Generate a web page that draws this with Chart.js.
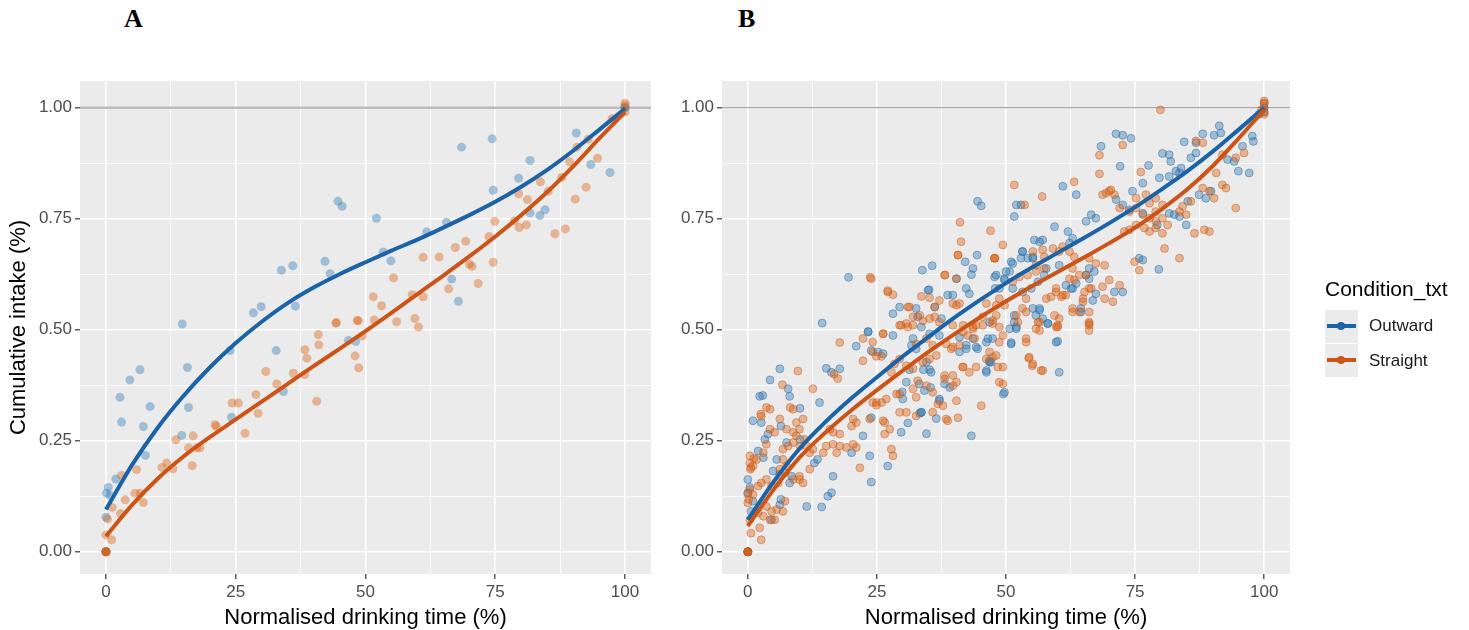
<!DOCTYPE html>
<html>
<head>
<meta charset="utf-8">
<script src="https://cdn.jsdelivr.net/npm/chart.js@4.4.0/dist/chart.umd.min.js"></script>
<style>
    body { margin: 0; background: #fff; width: 1469px; height: 630px; position: relative; overflow: hidden;
           font-family: "Liberation Sans", Arial, sans-serif; }
    .panel { position: absolute; top: 60px; height: 575px; }
    #wrap-a { left: 0; width: 660px; }
    #wrap-b { left: 660px; width: 809px; }
    .tag { position: absolute; top: 6px; font-family: "Liberation Serif", "Times New Roman", serif;
           font-weight: bold; font-size: 26px; line-height: 26px; color: #000; }
    .lg-title { position: absolute; left: 1325px; top: 276px; font-size: 21px; line-height: 26px; color: #000; }
    .key { position: absolute; left: 1325px; width: 33px; height: 33px; background: #ebebeb; }
    .key .ln { position: absolute; left: 2px; right: 2px; top: 14px; height: 4px; }
    .key .dot { position: absolute; left: 12px; top: 12px; width: 8px; height: 8px; border-radius: 50%; }
    .lg-label { position: absolute; left: 1369px; font-size: 17px; line-height: 20px; color: #1a1a1a; }
</style>
</head>
<body>
<div class="tag" style="left:124px">A</div>
<div class="tag" style="left:738px">B</div>

<div class="panel" id="wrap-a"><canvas id="chart-a"></canvas></div>
<div class="panel" id="wrap-b"><canvas id="chart-b"></canvas></div>

<div class="lg-title">Condition_txt</div>
<div class="key" style="top:310px"><span class="ln" id="key-out-ln"></span><span class="dot" id="key-out-dot"></span></div>
<div class="key" style="top:344px"><span class="ln" id="key-str-ln"></span><span class="dot" id="key-str-dot"></span></div>
<div class="lg-label" style="top:316px">Outward</div>
<div class="lg-label" style="top:351px">Straight</div>

<script>
// axis breaks (ggplot style: major + minor)
const xMajor = [0, 25, 50, 75, 100];
const xMinor = [12.5, 37.5, 62.5, 87.5];
const yMajor = [0, 0.25, 0.5, 0.75, 1];
const yMinor = [0.125, 0.375, 0.625, 0.875];

const OUT_LINE = '#1b63a6';
const STR_LINE = '#cb5416';
const OUT_PT = 'rgba(44,123,182,0.4)';
const STR_PT = 'rgba(217,95,14,0.4)';

// Panel A: individual points [time %, intake]
const outwardA = [
    [0,0],[0,0],[0,0.078],[0.1,0.132],[0.45,0.145],[0.8,0.127],[1.9,0.164],[2.7,0.348],[3.0,0.292],
    [4.6,0.387],[6.55,0.410],[7.2,0.282],[7.6,0.217],[8.5,0.327],[14.6,0.262],[14.7,0.513],[15.7,0.415],
    [15.9,0.325],[23.9,0.453],[24.2,0.303],[28.4,0.538],[29.9,0.552],[32.8,0.453],[33.8,0.634],[34.2,0.361],
    [36,0.644],[36.5,0.553],[42.2,0.654],[43.2,0.626],[44.7,0.789],[45.5,0.778],[46.7,0.476],[48.1,0.474],
    [52.1,0.751],[53.4,0.675],[54.9,0.655],[61.8,0.720],[65.6,0.742],[66.6,0.614],[67.9,0.564],[68.5,0.911],
    [74.4,0.930],[74.6,0.814],[79.5,0.841],[81.7,0.881],[81.7,0.763],[83.6,0.757],[84.6,0.770],[90.6,0.943],
    [93.4,0.872],[97.1,0.854],[100,1.0],[100,1.0]
];
const straightA = [
    [0,0],[0,0],[0,0],[0,0],[0,0.038],[1.1,0.027],[0.3,0.074],[1.2,0.100],[2.8,0.086],[3.7,0.117],[3.0,0.172],
    [5.6,0.132],[6.6,0.132],[7.2,0.111],[5.9,0.185],[10.8,0.190],[11.7,0.200],[12.9,0.187],[13.5,0.252],
    [16.6,0.194],[15.9,0.234],[16.8,0.261],[17.5,0.234],[18.1,0.234],[21,0.286],[21.3,0.282],[24.3,0.335],
    [25.5,0.335],[26.8,0.267],[28.9,0.354],[29.3,0.312],[30.8,0.406],[32.9,0.378],[36.1,0.402],[38.3,0.455],
    [38.7,0.436],[38.3,0.399],[40.9,0.489],[41,0.466],[40.6,0.339],[44.4,0.516],[48.4,0.521],[48,0.441],
    [48.7,0.414],[49.4,0.486],[44.3,0.515],[48.6,0.520],[51.7,0.522],[56,0.518],[59.5,0.525],[60.2,0.506],
    [51.5,0.574],[53.1,0.554],[55.4,0.617],[59,0.579],[61.1,0.574],[61.1,0.663],[64.2,0.664],[66,0.592],
    [67.3,0.685],[69.3,0.699],[70,0.648],[70.5,0.643],[71.7,0.604],[73.8,0.710],[74.6,0.652],[74.9,0.744],
    [78.7,0.745],[79.6,0.730],[81,0.736],[79.5,0.806],[81.2,0.793],[83.7,0.833],[85.2,0.812],[86.5,0.716],
    [88.5,0.727],[87.8,0.843],[89.3,0.878],[90.4,0.794],[90.7,0.911],[92.5,0.821],[92.9,0.929],[94.7,0.886],
    [97.5,0.975],[100,0.99],[100,1.01],[100,1.005]
];
// Panel A: smoothed fits, read every 5 %
const fitAX = [0, 5, 10, 15, 20, 25, 30, 35, 40, 45, 50, 55, 60, 65, 70, 75, 80, 85, 90, 95, 100];
const outFitAY = [0.095, 0.195, 0.28, 0.352, 0.415, 0.47, 0.518, 0.56, 0.595, 0.625, 0.652, 0.678, 0.703, 0.73, 0.758, 0.788, 0.822, 0.86, 0.903, 0.95, 0.998];
const strFitAY = [0.035, 0.105, 0.165, 0.215, 0.258, 0.298, 0.338, 0.378, 0.418, 0.457, 0.497, 0.538, 0.58, 0.622, 0.665, 0.71, 0.758, 0.81, 0.868, 0.93, 0.99];

// Panel B: individual points
const outwardB = [
    [0,0],[0,0],[0,0],[0,0.163],[0,0.133],[0.4,0.145],[0.6,0.091],[1,0.114],[1,0.295],[2.6,0.291],[2.3,0.35],
    [2.9,0.352],[4.3,0.387],[6.2,0.412],[7.8,0.367],[8.1,0.35],[10.1,0.323],[13.9,0.336],[15.2,0.413],
    [16.2,0.404],[17.8,0.412],[21,0.463],[23.3,0.495],[28.1,0.487],[14.4,0.515],[6.4,0.283],[2,0.227],
    [3,0.212],[10.1,0.253],[12.9,0.2],[13.5,0.208],[20.1,0.223],[16.5,0.17],[16.2,0.133],[15.5,0.125],
    [11.4,0.102],[14.3,0.101],[23.6,0.216],[23.9,0.157],[27.1,0.193],[23.9,0.302],[22.3,0.261],[29.7,0.269],
    [34.6,0.266],[33.3,0.312],[33.6,0.314],[37.1,0.344],[43.3,0.261],[29.9,0.36],[33.2,0.378],[35.4,0.37],
    [38.1,0.378],[39.1,0.37],[46.2,0.408],[46.8,0.427],[31.3,0.41],[34,0.41],[35.2,0.41],[32,0.48],
    [35.2,0.491],[37.1,0.487],[41,0.483],[42.3,0.465],[44.2,0.461],[46.2,0.472],[47.4,0.48],[4.6,0.072],
    [6.2,0.106],[6.4,0.118],[8.1,0.155],[8.5,0.17],[4.9,0.182],[6.2,0.174],[5.6,0.208],[7.5,0.246],
    [3.3,0.253],[3.9,0.265],
    [19.5,0.618],[44.5,0.789],[45.2,0.779],[42.1,0.653],[44.4,0.668],[43.6,0.638],[43.3,0.624],[47.8,0.619],
    [33.8,0.634],[35.7,0.644],[40.4,0.615],[35.1,0.590],[38.7,0.578],[39.7,0.578],[42.3,0.593],[42.9,0.581],
    [29.4,0.551],[28.1,0.536],[32.6,0.548],[32.9,0.529],[36.2,0.551],[37.5,0.525],[23.3,0.496],[46.8,0.517],
    [47.9,0.593],
    [71.3,0.941],[72.6,0.938],[74.2,0.931],[68.4,0.913],[72.1,0.868],[77.6,0.870],[80.3,0.897],[81.6,0.894],
    [81.9,0.879],[84.5,0.923],[86.8,0.921],[88.1,0.941],[90.3,0.938],[91.3,0.959],[91.6,0.943],[86.8,0.898],
    [85.8,0.887],[83.9,0.864],[82.9,0.857],[79.7,0.842],[81.6,0.845],[83.6,0.853],[92.9,0.883],[94.2,0.879],
    [95,0.857],[97.1,0.853],[95.8,0.913],[97.7,0.936],[97.9,0.924],[87.4,0.804],[88.7,0.796],[89.7,0.812],
    [85.2,0.789],[81.6,0.762],[82.6,0.759],[76.5,0.830],[74.5,0.812],[71.3,0.793],[72.6,0.781],[73.9,0.77],
    [76.5,0.762],[83.6,0.755],[84.9,0.736],[79.3,0.736],[79.6,0.636],[75.8,0.661],[76.5,0.657],[61,0.823],
    [63.6,0.804],[52,0.781],[52.9,0.781],[51.6,0.755],[59.4,0.732],[62,0.721],[62.9,0.706],[62.3,0.695],
    [65.5,0.744],[66.5,0.759],[67.4,0.751],[57.1,0.702],[55.5,0.702],[53.2,0.676],[54.2,0.661],[55.2,0.661],
    [52.9,0.661],[51,0.653],[50.7,0.631],[48.1,0.623],[49.7,0.615],[66.1,0.638],[67.1,0.631],[65.5,0.623],
    [61.6,0.600],[62.6,0.593],[63.6,0.604],[67.4,0.581],[71,0.585],[72.6,0.585],[64.5,0.548],[56.5,0.548],
    [55.8,0.532],[57.1,0.525],[50.7,0.502],[51.6,0.517],[53.2,0.585],[54.9,0.593],[56.2,0.608],[51.3,0.593],
    [48.7,0.593],
    [60,0.474],[60.3,0.404],[51,0.471],[47.1,0.427],[49.5,0.355],[58.1,0.514],[52,0.502],
    [34.9,0.589],[23.9,0.453],[25.2,0.45],[26.2,0.446],[33.6,0.506],[31.7,0.465],[32.6,0.457],[34.6,0.427],
    [35.5,0.404],[34.2,0.363],[37.1,0.34],[33.6,0.314],[30,0.344],[30.7,0.382],[41,0.45],[42.3,0.457],
    [43.6,0.48],[44.5,0.457],[46.5,0.48],[46.8,0.43],[46.2,0.404],[51,0.468],[52,0.506],[51.6,0.532],
    [55.2,0.548],[56.5,0.544],[58.1,0.514],[59.7,0.472],[49.7,0.612],[50,0.631],[51.3,0.649],[53.2,0.676],
    [55.2,0.664],[56.5,0.698],[57.8,0.638],[57.4,0.623],[60.3,0.645],[62.9,0.593],[66.1,0.615],[66.8,0.566],
    [64.5,0.540],[49.7,0.359],[36.5,0.30],[31,0.29],
    [100,1.0],[100,0.99],[100,1.01],[99,0.985]
];
const straightB = [
    [0,0],[0,0],[0,0],[0,0],[0,0.11],[0.4,0.072],[0.6,0.042],[2,0.088],[3,0.08],[4.3,0.072],[5.2,0.072],
    [3.6,0.102],[4.6,0.091],[5.6,0.095],[6.8,0.091],[7.2,0.114],[2.3,0.054],[2.6,0.027],[7.2,0.178],
    [8.8,0.163],[10,0.170],[2,0.148],[2.6,0.155],[3.6,0.163],[4.6,0.148],[5.9,0.155],[6.2,0.186],[7.5,0.193],
    [6.8,0.208],[0.4,0.2],[1.2,0.21],[0.6,0.19],[0.4,0.14],[1,0.129],[0.2,0.118],[0,0.13],[0.5,0.186],
    [1,0.193],[8.8,0.246],[10.1,0.238],[11,0.253],[6.8,0.231],[7.8,0.238],[4.3,0.276],[5.2,0.269],[9.4,0.291],
    [10.7,0.299],[6.7,0.376],[9.7,0.407],[8.2,0.325],[8.8,0.321],[12.6,0.367],[16.7,0.40],[17.4,0.39],
    [17.8,0.471],[22.3,0.43],[24.2,0.45],[24.9,0.44],[25.9,0.44],[26.2,0.491],[29.4,0.51],[30.7,0.514],
    [2.5,0.31],[2.6,0.305],[3.6,0.325],[4.3,0.321],[6.2,0.299],[7.5,0.276],[0.4,0.216],[1.7,0.208],[3,0.223],
    [3.6,0.242],[8.8,0.269],[9.4,0.261],[10,0.276],[11.4,0.238],[12.6,0.231],[12,0.223],[12,0.186],[10,0.163],
    [10.7,0.155],[14.6,0.223],[15.2,0.238],[16.5,0.242],[17.2,0.223],[17.8,0.238],[19.1,0.235],[20.4,0.242],
    [21,0.235],[15.9,0.276],[16.5,0.269],[17.8,0.265],[21.7,0.189],[27.8,0.231],[28.1,0.216],[26.5,0.291],
    [26.5,0.265],[27.5,0.276],[24.2,0.336],[24.9,0.330],[25.9,0.336],[20.4,0.299],[21,0.291],[20.1,0.283],
    [30.7,0.314],[32.6,0.306],[35.8,0.314],[36.8,0.333],[38.4,0.299],[40.7,0.302],[40.4,0.34],[45.2,0.329],
    [29.4,0.355],[32,0.367],[34.6,0.374],[35.8,0.359],[38.1,0.389],[39.7,0.397],[41.7,0.416],[40.4,0.382],
    [42.9,0.404],[44.2,0.416],[46.2,0.434],[46.8,0.45],[32,0.412],[33.9,0.427],[35.2,0.434],[36.5,0.442],
    [32.6,0.468],[34.6,0.48],[35.8,0.465],[38.4,0.468],[39.7,0.461],[41.7,0.495],[43.6,0.506],[45.5,0.51],
    [47.4,0.514],
    [23.7,0.618],[41.1,0.742],[41.3,0.698],[47,0.723],[40.7,0.668],[47.8,0.661],[38.2,0.623],[40.4,0.615],
    [27.1,0.588],[28.1,0.579],[33.6,0.575],[35.2,0.572],[40.4,0.555],[41,0.559],[31,0.551],[36.2,0.551],
    [32,0.529],[33.3,0.532],[35.2,0.525],[29.7,0.51],[31,0.506],[32,0.51],[26.2,0.491],[39.7,0.51],
    [41.7,0.51],[43.6,0.502],
    [79.9,0.995],[72.6,0.916],[68.1,0.893],[68.1,0.851],[76.1,0.855],[86.8,0.925],[88.1,0.921],[91.9,0.894],
    [94.5,0.887],[96.1,0.898],[94.5,0.774],[90.7,0.853],[91.9,0.826],[92.6,0.819],[88.1,0.819],[89.4,0.812],
    [90.3,0.796],[85.8,0.789],[84.2,0.778],[84.9,0.759],[83.6,0.766],[80.3,0.781],[79,0.796],[77.1,0.804],
    [75.2,0.796],[77.8,0.785],[79,0.766],[69.4,0.808],[70.3,0.815],[71,0.804],[72,0.774],[73.9,0.766],
    [75.2,0.774],[76.5,0.759],[77.8,0.751],[79,0.744],[80.3,0.751],[81.3,0.736],[86.5,0.717],[88.4,0.725],
    [89.4,0.721],[80.3,0.717],[79,0.729],[77.8,0.721],[76.8,0.729],[73.9,0.725],[75.2,0.736],[72.9,0.721],
    [80.7,0.683],[83.6,0.661],[74.9,0.653],[75.8,0.634],[51.6,0.826],[57,0.8],[63.2,0.833],[53.6,0.781],
    [68.7,0.804],[70,0.812],[49.4,0.691],[47.8,0.661],[55.2,0.676],[57.1,0.680],[59.1,0.683],[62.3,0.676],
    [63.2,0.664],[66.1,0.661],[67.4,0.649],[69.1,0.645],[62.9,0.638],[64.2,0.623],[62.3,0.615],[63.2,0.612],
    [59.7,0.585],[60.7,0.574],[61.6,0.578],[64.9,0.570],[65.2,0.585],[66.5,0.593],[68.7,0.597],[70,0.612],
    [72,0.600],[69.1,0.570],[70.7,0.563],[62.9,0.548],[64.2,0.540],[66.1,0.517],[59.4,0.532],[60,0.51],
    [53.9,0.540],[52.3,0.517],[48.1,0.532],[49.7,0.555],[48.7,0.570],[54.2,0.623],[55.8,0.631],[57.4,0.638],
    [66.1,0.514],[66.1,0.498],[57.1,0.408],[54.4,0.436],[55.1,0.419],[53.9,0.472],[49.4,0.487],[48.7,0.472],
    [48.1,0.442],[48.4,0.416],[49.4,0.378],[56.2,0.517],[56.5,0.498],[60,0.506],
    [40.7,0.668],[47.8,0.661],[38.1,0.623],[23.9,0.615],[27.1,0.585],[37.1,0.566],[39.7,0.559],[31.3,0.551],
    [36.2,0.529],[37.1,0.517],[33.9,0.52],[22.3,0.48],[24.2,0.472],[29.4,0.434],[28.4,0.423],[27.8,0.404],
    [30.7,0.419],[32.9,0.385],[28.8,0.355],[26.8,0.344],[24.9,0.336],[32.6,0.348],[37.8,0.329],[29.4,0.314],
    [26.2,0.295],[23.6,0.299],[38.7,0.295],[39.7,0.374],[38.1,0.397],[41.6,0.416],[39.4,0.457],[41,0.465],
    [43.9,0.48],[42.6,0.487],[44.2,0.51],[45.5,0.529],[47.4,0.521],[48.7,0.506],[46.2,0.559],[48.1,0.555],
    [47.4,0.438],[49.4,0.416],[48.7,0.382],[54.5,0.438],[55.2,0.423],[56.8,0.408],[53.9,0.48],[55.8,0.502],
    [56.5,0.517],[59.7,0.506],[60.3,0.525],[52,0.532],[53.2,0.548],[53.9,0.570],[57.8,0.570],[58.7,0.574],
    [59.7,0.593],[61,0.578],[65.5,0.623],[66.1,0.593],[64.9,0.563],[66.1,0.540],[66.1,0.510],[62.9,0.540],
    [55.8,0.645],[57.4,0.664],[60.3,0.676],[61,0.687],[52.6,0.619],[51.3,0.608],
    [100,1.0],[100,0.99],[100,1.01],[100,0.985],[99.5,0.995],[100,1.015]
];
// Panel B: smoothed fits, read every 5 %
const fitBX = [0, 5, 10, 15, 20, 25, 30, 35, 40, 45, 50, 55, 60, 65, 70, 75, 80, 85, 90, 95, 100];
const outFitBY = [0.072, 0.158, 0.232, 0.292, 0.345, 0.393, 0.44, 0.484, 0.527, 0.567, 0.605, 0.64, 0.673, 0.706, 0.74, 0.776, 0.815, 0.856, 0.901, 0.95, 1.0];
const strFitBY = [0.058, 0.14, 0.212, 0.268, 0.318, 0.364, 0.408, 0.45, 0.49, 0.528, 0.564, 0.598, 0.63, 0.662, 0.695, 0.73, 0.77, 0.815, 0.868, 0.93, 0.995];

const FONT = "'Liberation Sans', Arial, sans-serif";

/**
 * Grey panel background, like ggplot's theme_gray
 */
const panelBg = {
    id: 'panelBg',
    beforeDraw(chart) {
        const { ctx, chartArea: a } = chart;
        ctx.save();
        ctx.fillStyle = '#ebebeb';
        ctx.fillRect(a.left, a.top, a.width, a.height);
        ctx.restore();
    }
};

/**
 * Horizontal reference line at y = 1
 */
const refLine = {
    id: 'refLine',
    beforeDatasetsDraw(chart, args, opts) {
        const { ctx, chartArea: a, scales } = chart;
        const y = scales.y.getPixelForValue(opts.value);
        ctx.save();
        ctx.strokeStyle = opts.color;
        ctx.lineWidth = opts.width;
        ctx.beginPath();
        ctx.moveTo(a.left, y);
        ctx.lineTo(a.right, y);
        ctx.stroke();
        ctx.restore();
    }
};

function toXY(pairs) {
    return pairs.map(p => ({ x: p[0], y: p[1] }));
}

function zip(xs, ys) {
    return xs.map((x, i) => ({ x: x, y: ys[i] }));
}

function axis(major, minor, min, max, fmt, width, height, titleText, titlePad) {
    const isMajor = v => major.includes(v);
    return {
        type: 'linear',
        min: min,
        max: max,
        afterBuildTicks: scale => {
            scale.ticks = major.concat(minor).sort((a, b) => a - b).map(v => ({ value: v }));
        },
        afterFit: scale => {
            if (width !== null) scale.width = width;
            if (height !== null) scale.height = height;
        },
        border: { display: false },
        grid: {
            color: '#ffffff',
            lineWidth: c => (c.tick && !isMajor(c.tick.value)) ? 0.8 : 1.6,
            tickColor: c => (c.tick && !isMajor(c.tick.value)) ? 'rgba(0,0,0,0)' : '#333333',
            tickLength: 5,
            tickWidth: 1.2
        },
        ticks: {
            autoSkip: false,
            maxRotation: 0,
            padding: 3,
            color: '#4d4d4d',
            font: { family: FONT, size: 17 },
            callback: v => isMajor(v) ? fmt(v) : ''
        },
        title: {
            display: !!titleText,
            text: titleText || '',
            color: '#000000',
            padding: titlePad,
            font: { family: FONT, size: 22 }
        }
    };
}

function renderPanel(id, outPts, strPts, outFit, strFit, cfg) {
    const ctx = document.getElementById(id).getContext('2d');
    return new Chart(ctx, {
        type: 'scatter',
        data: {
            datasets: [
                {
                    type: 'line',
                    data: strFit,
                    borderColor: STR_LINE,
                    borderWidth: 4,
                    pointRadius: 0,
                    cubicInterpolationMode: 'monotone',
                    order: 0
                },
                {
                    type: 'line',
                    data: outFit,
                    borderColor: OUT_LINE,
                    borderWidth: 4,
                    pointRadius: 0,
                    cubicInterpolationMode: 'monotone',
                    order: 1
                },
                {
                    data: strPts,
                    backgroundColor: STR_PT,
                    borderColor: cfg.ptBorder ? 'rgba(200,90,30,0.45)' : 'rgba(0,0,0,0)',
                    borderWidth: cfg.ptBorder ? 1 : 0,
                    pointRadius: cfg.ptRadius,
                    order: 2
                },
                {
                    data: outPts,
                    backgroundColor: OUT_PT,
                    borderColor: cfg.ptBorder ? 'rgba(40,100,160,0.45)' : 'rgba(0,0,0,0)',
                    borderWidth: cfg.ptBorder ? 1 : 0,
                    pointRadius: cfg.ptRadius,
                    order: 3
                }
            ]
        },
        options: {
            responsive: true,
            maintainAspectRatio: false,
            animation: false,
            layout: { padding: { top: 21, right: cfg.rightPad, bottom: 0, left: 0 } },
            plugins: {
                legend: { display: false },
                tooltip: { enabled: false },
                refLine: { value: 1, color: cfg.refColor, width: cfg.refWidth }
            },
            scales: {
                x: axis(xMajor, xMinor, -5, 105, v => String(v), null, 61,
                    'Normalised drinking time (%)', { top: 0, bottom: 4 }),
                y: axis(yMajor, yMinor, -0.05, 1.06, v => v.toFixed(2), cfg.yWidth, null,
                    cfg.yTitle, { top: 6, bottom: 0 })
            }
        },
        plugins: [panelBg, refLine]
    });
}

renderPanel('chart-a', toXY(outwardA), toXY(straightA), zip(fitAX, outFitAY), zip(fitAX, strFitAY), {
    rightPad: 9, yWidth: 80, yTitle: 'Cumulative intake (%)',
    ptRadius: 4.5, ptBorder: false, refColor: '#bdbdbd', refWidth: 2.5
});

renderPanel('chart-b', toXY(outwardB), toXY(straightB), zip(fitBX, outFitBY), zip(fitBX, strFitBY), {
    rightPad: 179, yWidth: 62, yTitle: null,
    ptRadius: 4, ptBorder: true, refColor: '#a8a8a8', refWidth: 1.3
});

// legend keys share the series colours
document.getElementById('key-out-ln').style.background = OUT_LINE;
document.getElementById('key-out-dot').style.background = OUT_LINE;
document.getElementById('key-str-ln').style.background = STR_LINE;
document.getElementById('key-str-dot').style.background = STR_LINE;
</script>
</body>
</html>
